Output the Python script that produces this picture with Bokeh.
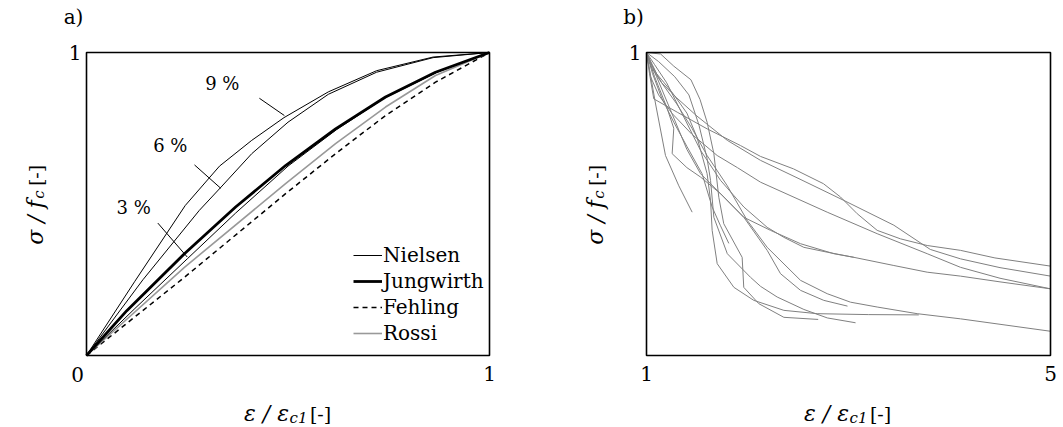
import math
from bokeh.plotting import figure
from bokeh.models import FixedTicker, Label, Legend, LegendItem, BoxAnnotation
from bokeh.layouts import row
from bokeh.embed import file_html
from bokeh.resources import INLINE

SERIF = "DejaVu Serif"

# ---------------- Panel a: ascending branch ----------------
nielsen9_x = [0, 0.12, 0.245, 0.33, 0.41, 0.49, 0.6, 0.72, 0.86, 1.0]
nielsen9_y = [0, 0.245, 0.495, 0.625, 0.71, 0.785, 0.87, 0.94, 0.985, 1.0]
nielsen6_x = [0, 0.14, 0.28, 0.334, 0.41, 0.5, 0.6, 0.72, 0.86, 1.0]
nielsen6_y = [0, 0.25, 0.479, 0.556, 0.666, 0.77, 0.862, 0.935, 0.983, 1.0]
nielsen3_x = [0, 0.12, 0.25, 0.37, 0.5, 0.62, 0.74, 0.87, 1.0]
nielsen3_y = [0, 0.155, 0.319, 0.47, 0.625, 0.745, 0.85, 0.935, 1.0]
jungwirth_x = [0, 0.1, 0.243, 0.37, 0.494, 0.618, 0.742, 0.866, 1.0]
jungwirth_y = [0, 0.148, 0.336, 0.49, 0.627, 0.748, 0.853, 0.935, 1.0]
fehling_x = [0, 0.243, 0.494, 0.618, 0.742, 0.866, 1.0]
fehling_y = [0, 0.258, 0.534, 0.666, 0.792, 0.902, 1.0]
rossi_x = [0, 0.243, 0.494, 0.618, 0.742, 0.866, 1.0]
rossi_y = [0, 0.291, 0.567, 0.699, 0.82, 0.924, 1.0]

pct_labels = ["9 %", "6 %", "3 %"]
pct_label_x = [0.337, 0.208, 0.117]
pct_label_y = [0.897, 0.693, 0.49]
leader_x0 = [0.429, 0.268, 0.177]
leader_y0 = [0.849, 0.629, 0.437]
leader_x1 = [0.491, 0.333, 0.25]
leader_y1 = [0.792, 0.552, 0.325]

legend_labels = ["Nielsen", "Jungwirth", "Fehling", "Rossi"]

# ---------------- Panel b: descending branch tests ----------------
b01_x = [1, 1.09, 1.188, 1.32, 1.452]
b01_y = [1, 0.83, 0.66, 0.56, 0.473]
b02_x = [1, 1.06, 1.15, 1.27, 1.4, 1.55, 1.65, 1.73, 1.815]
b02_y = [1, 0.93, 0.85, 0.77, 0.69, 0.6, 0.49, 0.43, 0.37]
b03_x = [1, 1.14, 1.27, 1.44, 1.53, 1.6, 1.667, 1.716, 1.765, 1.947, 1.963, 2.112, 2.36, 2.7]
b03_y = [1, 0.995, 0.955, 0.91, 0.845, 0.77, 0.666, 0.522, 0.435, 0.324, 0.225, 0.171, 0.126, 0.119]
b04_x = [1, 1.08, 1.2, 1.27, 1.254, 1.4, 1.535, 1.733, 1.964, 2.195, 2.327, 2.525, 2.755, 2.99]
b04_y = [1, 0.92, 0.82, 0.75, 0.666, 0.62, 0.589, 0.534, 0.456, 0.347, 0.27, 0.215, 0.182, 0.163]
b05_x = [1, 1.12, 1.28, 1.42, 1.52, 1.6, 1.634, 1.667, 1.8, 2.03, 2.13, 2.294, 2.558, 2.79, 3.07]
b05_y = [1, 0.97, 0.92, 0.86, 0.76, 0.65, 0.578, 0.456, 0.336, 0.258, 0.228, 0.193, 0.152, 0.124, 0.108]
b06_x = [1, 1.1, 1.25, 1.4, 1.5, 1.6, 1.634, 1.65, 1.7, 1.865, 2.062, 2.36, 2.69, 3.2, 3.696]
b06_y = [1, 0.93, 0.87, 0.8, 0.72, 0.6, 0.512, 0.413, 0.303, 0.225, 0.182, 0.149, 0.138, 0.135, 0.134]
b07_x = [1, 1.1, 1.25, 1.4, 1.535, 1.766, 1.964, 2.228, 2.525, 2.855, 3.053]
b07_y = [1, 0.92, 0.8, 0.68, 0.6, 0.523, 0.456, 0.413, 0.369, 0.336, 0.324]
b08_x = [1, 1.03, 1.072, 1.304, 1.6, 1.93, 2.129, 2.455, 2.752, 2.921, 3.086, 3.284, 3.515, 3.779, 4.109, 4.45, 5]
b08_y = [1, 0.93, 0.847, 0.803, 0.748, 0.693, 0.657, 0.616, 0.567, 0.523, 0.468, 0.413, 0.385, 0.363, 0.347, 0.322, 0.295]
b09_x = [1, 1.05, 1.15, 1.3, 1.5, 1.8, 2.129, 2.5, 2.953, 3.449, 3.81, 4.109, 4.5, 5]
b09_y = [1, 0.95, 0.9, 0.85, 0.79, 0.71, 0.644, 0.585, 0.512, 0.43, 0.35, 0.319, 0.29, 0.262]
b10_x = [1, 1.04, 1.12, 1.25, 1.45, 1.7, 1.9, 2.129, 2.789, 3.284, 3.779, 4.109, 4.5, 5]
b10_y = [1, 0.92, 0.86, 0.8, 0.73, 0.66, 0.62, 0.572, 0.473, 0.402, 0.336, 0.291, 0.255, 0.22]
b11_x = [1, 1.08, 1.2, 1.35, 1.535, 1.733, 1.964, 2.195, 2.36, 2.558, 2.789, 3.053, 3.449, 3.779, 4.109, 4.5, 5]
b11_y = [1, 0.96, 0.9, 0.8, 0.677, 0.578, 0.49, 0.423, 0.39, 0.357, 0.341, 0.324, 0.297, 0.275, 0.262, 0.243, 0.22]
b12_x = [1, 1.05, 1.15, 1.3, 1.45, 1.6, 1.8, 1.997, 2.195, 2.525, 2.789, 3.02, 3.284, 3.68, 4.109, 4.5, 5]
b12_y = [1, 0.96, 0.9, 0.83, 0.75, 0.66, 0.56, 0.446, 0.357, 0.248, 0.204, 0.176, 0.16, 0.138, 0.121, 0.103, 0.08]

b_curves_x = [b01_x, b02_x, b03_x, b04_x, b05_x, b06_x, b07_x, b08_x, b09_x, b10_x, b11_x, b12_x]
b_curves_y = [b01_y, b02_y, b03_y, b04_y, b05_y, b06_y, b07_y, b08_y, b09_y, b10_y, b11_y, b12_y]

# ---------------- layout (pixels) ----------------
H = 426                      # canvas height
BOX_TOP, BOX_BOT = 52, 355   # box edges (canvas y from top)
A_W, A_BOX_L, A_BOX_R = 528, 86, 489
B_W, B_BOX_L, B_BOX_R = 532, 118, 522   # relative to panel b canvas


def make_fig(width, box_l, box_r, x0, x1):
    sx = (box_r - box_l) / (x1 - x0)
    sy = (BOX_BOT - BOX_TOP) / 1.0
    xr = (x0 - box_l / sx, x1 + (width - box_r) / sx)
    yr = (0 - (H - BOX_BOT) / sy, 1 + BOX_TOP / sy)
    p = figure(frame_width=width, frame_height=H, x_range=xr, y_range=yr,
               min_border=0, output_backend="svg", toolbar_location=None)
    p.outline_line_color = None
    p.xgrid.visible = False
    p.ygrid.visible = False
    p.background_fill_color = "white"
    p.border_fill_color = "white"
    for ax in (p.xaxis[0], p.yaxis[0]):
        ax.axis_line_color = None
        ax.major_tick_line_color = None
        ax.minor_tick_line_color = None
        ax.major_label_text_font = SERIF
        ax.major_label_text_font_size = "20px"
        ax.major_label_text_color = "black"
    p.xaxis.fixed_location = 0
    p.yaxis.fixed_location = x0
    p.xaxis.major_label_standoff = 4
    p.yaxis.major_label_standoff = -1
    p.add_layout(BoxAnnotation(left=x0, right=x1, bottom=0, top=1, fill_alpha=0,
                               line_color="black", line_width=1.6, line_alpha=1))
    return p


def lab(p, x, y, text, size, italic=False, angle=0.0, align="center", baseline="alphabetic"):
    p.add_layout(Label(x=x, y=H - y, x_units="screen", y_units="screen", text=text,
                       angle=angle, text_font=SERIF, text_font_size=size,
                       text_font_style="italic" if italic else "normal",
                       text_align=align, text_baseline=baseline, text_color="black"))


def add_axis_labels(p, dx, letter):
    ang = math.pi / 2
    # y label  sigma / f_c [-]
    lab(p, 35 + dx, 222, "σ / f", "22px", italic=True, angle=ang)
    lab(p, 38.5 + dx, 194, "c", "15px", italic=True, angle=ang)
    lab(p, 35 + dx, 175, "[-]", "19px", angle=ang)
    # x label  epsilon / epsilon_c1 [-]
    lab(p, 266 + dx, 413, "ε / ε", "22px", italic=True)
    lab(p, 298 + dx, 417, "c1", "15px", italic=True)
    lab(p, 320 + dx, 413, "[-]", "19px")
    # panel letter
    lab(p, 73 + dx, 16, letter, "20px", baseline="middle")


# ---------- Figure a ----------
pa = make_fig(A_W, A_BOX_L, A_BOX_R, 0, 1)
pa.xaxis.ticker = FixedTicker(ticks=[1])
pa.yaxis.ticker = FixedTicker(ticks=[1])

r_f = pa.line(fehling_x, fehling_y, line_color="black", line_width=1.5, line_dash="5 4")
r_r = pa.line(rossi_x, rossi_y, line_color="#999999", line_width=1.6)
r_j = pa.line(jungwirth_x, jungwirth_y, line_color="black", line_width=2.8)
r_n3 = pa.line(nielsen3_x, nielsen3_y, line_color="black", line_width=1.0)
pa.line(nielsen6_x, nielsen6_y, line_color="black", line_width=1.0)
pa.line(nielsen9_x, nielsen9_y, line_color="black", line_width=1.0)
pa.segment(leader_x0, leader_y0, leader_x1, leader_y1, line_color="black", line_width=1.0)

for t, x, y in zip(pct_labels, pct_label_x, pct_label_y):
    pa.add_layout(Label(x=x, y=y, text=t, text_font=SERIF, text_font_size="18px",
                        text_align="center", text_baseline="middle", text_color="black"))

lab(pa, 77, 373.5, "0", "20px", baseline="middle")

legend = Legend(items=[LegendItem(label=legend_labels[0], renderers=[r_n3]),
                       LegendItem(label=legend_labels[1], renderers=[r_j]),
                       LegendItem(label=legend_labels[2], renderers=[r_f]),
                       LegendItem(label=legend_labels[3], renderers=[r_r])],
                location=(353, H - 346), padding=0, margin=0, spacing=0,
                border_line_color=None, background_fill_alpha=0,
                glyph_width=29, glyph_height=26, label_height=26, label_standoff=1,
                label_text_font=SERIF, label_text_font_size="20px",
                label_text_baseline="middle", label_text_color="black")
pa.add_layout(legend)
add_axis_labels(pa, 0, "a)")

# ---------- Figure b ----------
pb = make_fig(B_W, B_BOX_L, B_BOX_R, 1, 5)
pb.xaxis.ticker = FixedTicker(ticks=[1, 5])
pb.yaxis.ticker = FixedTicker(ticks=[1])
for xs, ys in zip(b_curves_x, b_curves_y):
    pb.line(xs, ys, line_color="#808080", line_width=1.0)
add_axis_labels(pb, 32, "b)")

layout = row(pa, pb)
open("out.html", "w").write(file_html(layout, INLINE))
